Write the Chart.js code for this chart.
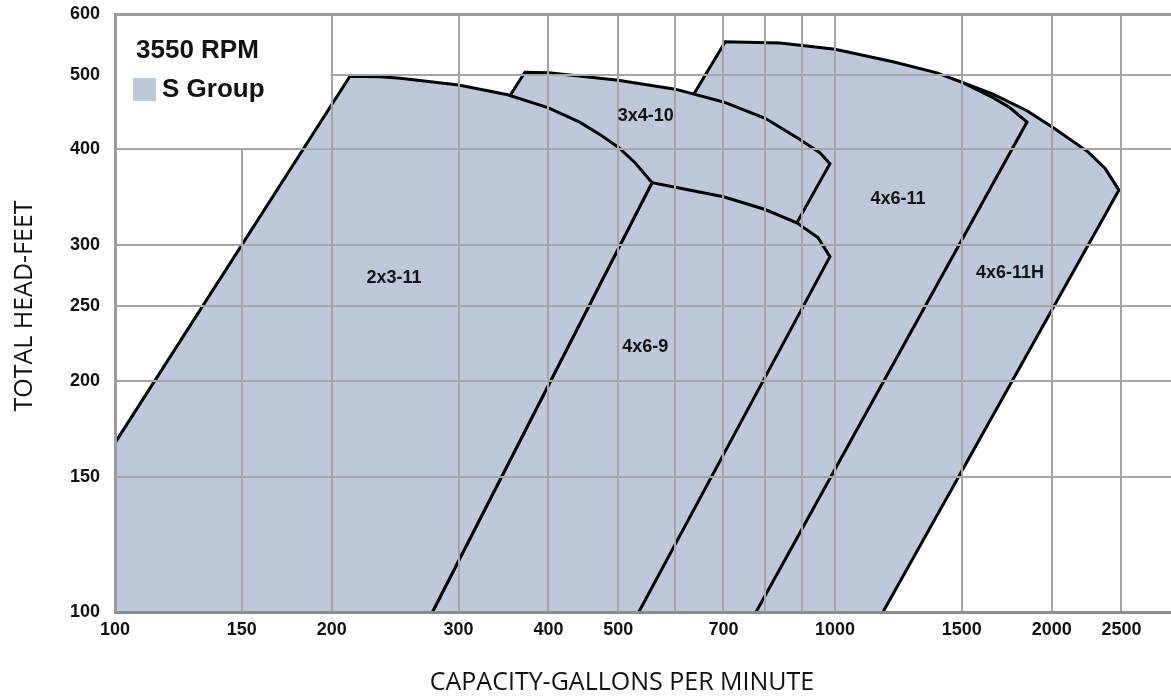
<!DOCTYPE html>
<html lang="en">
<head>
    <meta charset="UTF-8">
    <title>3550 RPM - S Group</title>
    <script src="https://cdn.jsdelivr.net/npm/chart.js"></script>
    <style>
        html, body { margin: 0; padding: 0; background: #fff; }
        #wrap { width: 1171px; height: 698px; position: relative; }
    </style>
</head>
<body>
    <div id="wrap"><canvas id="pumpChart"></canvas></div>

    <script>
        // axis ranges and ticks (log-log)
        const X_MIN = 100, X_MAX = 2929;
        const Y_MIN = 100, Y_MAX = 600;
        const xGridValues = [100, 150, 200, 300, 400, 500, 600, 700, 800, 900, 1000, 1500, 2000, 2500];
        const xTickLabels = [100, 150, 200, 300, 400, 500, 700, 1000, 1500, 2000, 2500];
        const yGridValues = [100, 150, 200, 250, 300, 400, 500, 600];

        // pump coverage areas, [gpm, feet], front-most first
        const pump2x3_11 = [[100, 100], [100, 166], [212, 498], [233, 497], [249, 495], [300, 485], [351, 471],
            [400, 453], [442, 434], [472, 418], [501, 402], [528, 384], [557, 362], [276, 100]];
        const pump4x6_9 = [[276, 100], [557, 362], [600, 357], [700, 347], [800, 334], [885, 321], [947, 307],
            [984, 290], [534, 100]];
        const pump3x4_10 = [[123, 100], [371, 504], [400, 503], [500, 492], [600, 479], [700, 461], [800, 439],
            [894, 412], [953, 396], [984, 383], [441, 100]];
        const pump4x6_11 = [[236, 100], [704, 552], [839, 550], [1000, 540], [1204, 520], [1386, 503], [1500, 489],
            [1658, 467], [1750, 453], [1848, 434], [777, 100]];
        const pump4x6_11H = [[259, 100], [762, 539], [1000, 529], [1204, 513], [1421, 498], [1500, 489], [1658, 472],
            [1848, 449], [2015, 426], [2246, 397], [2371, 378], [2480, 354], [1166, 100]];

        const pumpNames = ['2x3-11', '4x6-9', '3x4-10', '4x6-11', '4x6-11H'];
        const pumpAreas = [pump2x3_11, pump4x6_9, pump3x4_10, pump4x6_11, pump4x6_11H];
        // where each model name sits, [gpm, feet]
        const labelSpots = [[244, 272], [545, 221], [546, 442], [1223, 345], [1750, 276]];

        const legendTitle = '3550 RPM';
        const legendGroup = 'S Group';
        const xTitle = 'CAPACITY-GALLONS PER MINUTE';
        const yTitle = 'TOTAL HEAD-FEET';

        const areaColor = '#bec8db';
        const gridColor = '#a5a5a5';
        const tickFont = { family: '"Liberation Sans", Arial, sans-serif', size: 18, weight: 'bold' };

        const toXY = pts => pts.map(p => ({ x: p[0], y: p[1] }));

        const datasets = [];
        pumpAreas.forEach((pts, i) => {
            // filled area
            datasets.push({
                label: pumpNames[i] + ' area',
                data: toXY(pts),
                order: i * 10 + 2,
                backgroundColor: areaColor,
                borderWidth: 0,
                fill: 'shape',
                pointRadius: 0,
                tension: 0
            });
            // outline (edges lying on the axes are not stroked)
            datasets.push({
                label: pumpNames[i],
                data: toXY(pts.filter(p => !(p[0] <= X_MIN && p[1] <= Y_MIN))),
                order: i * 10 + 1,
                borderColor: '#000',
                borderWidth: 3,
                borderJoinStyle: 'miter',
                fill: false,
                pointRadius: 0,
                tension: 0
            });
        });

        const decor = {
            id: 'decor',
            afterDraw(chart) {
                const { ctx, chartArea, scales: { x, y } } = chart;
                ctx.save();

                // legend panel: hides the grid in the top-left corner, areas stay on top of it
                const bx0 = chartArea.left + 2, by0 = chartArea.top + 2;
                const bx1 = x.getPixelForValue(200) - 1, by1 = y.getPixelForValue(400) - 1;
                ctx.save();
                ctx.beginPath();
                ctx.rect(bx0, by0, bx1 - bx0, by1 - by0);
                ctx.clip();
                ctx.fillStyle = '#fff';
                ctx.fillRect(bx0, by0, bx1 - bx0, by1 - by0);
                for (let i = pumpAreas.length - 1; i >= 0; i--) {
                    const areaEl = chart.getDatasetMeta(i * 2).dataset;
                    ctx.fillStyle = areaColor;
                    ctx.beginPath();
                    areaEl.path(ctx);
                    ctx.closePath();
                    ctx.fill();
                    chart.getDatasetMeta(i * 2 + 1).dataset.draw(ctx, chartArea);
                }
                ctx.restore();

                ctx.fillStyle = '#111';
                ctx.textAlign = 'left';
                ctx.textBaseline = 'alphabetic';
                ctx.font = 'bold 26px "Liberation Sans", Arial, sans-serif';
                ctx.fillText(legendTitle, chartArea.left + 21, chartArea.top + 44);
                ctx.fillText(legendGroup, chartArea.left + 47, chartArea.top + 83);
                ctx.fillStyle = areaColor;
                ctx.fillRect(chartArea.left + 18, chartArea.top + 64, 23, 23);

                // model names
                ctx.fillStyle = '#111';
                ctx.textAlign = 'center';
                ctx.textBaseline = 'middle';
                ctx.font = 'bold 18px "Liberation Sans", Arial, sans-serif';
                labelSpots.forEach((p, i) => {
                    ctx.fillText(pumpNames[i], x.getPixelForValue(p[0]), y.getPixelForValue(p[1]));
                });

                // axis titles
                ctx.font = '25px "Open Sans", "Liberation Sans", sans-serif';
                ctx.textBaseline = 'alphabetic';
                ctx.fillText(xTitle, 622, 690);
                ctx.translate(32, 306);
                ctx.rotate(-Math.PI / 2);
                ctx.fillText(yTitle, 0, 0);

                ctx.restore();
            }
        };

        new Chart(document.getElementById('pumpChart'), {
            type: 'line',
            data: { datasets: datasets },
            options: {
                responsive: true,
                maintainAspectRatio: false,
                animation: false,
                indexAxis: 'y',
                layout: { padding: { top: 14, left: 0, right: 0, bottom: 0 } },
                plugins: {
                    legend: { display: false },
                    tooltip: { enabled: false }
                },
                scales: {
                    x: {
                        type: 'logarithmic',
                        position: 'bottom',
                        min: X_MIN,
                        max: X_MAX,
                        afterBuildTicks: axis => { axis.ticks = xGridValues.map(v => ({ value: v })); },
                        afterFit: axis => { axis.height = 86; axis.paddingRight = 0; },
                        grid: {
                            z: 1,
                            drawTicks: false,
                            color: gridColor,
                            lineWidth: c => (c.tick && c.tick.value === X_MIN ? 0 : 2)
                        },
                        border: { display: true, color: '#8c8c8c', width: 3, z: 2 },
                        ticks: {
                            autoSkip: false,
                            maxRotation: 0,
                            minRotation: 0,
                            padding: 7,
                            color: '#111',
                            font: tickFont,
                            callback: v => (xTickLabels.includes(v) ? String(v) : '')
                        }
                    },
                    y: {
                        type: 'logarithmic',
                        position: 'left',
                        min: Y_MIN,
                        max: Y_MAX,
                        afterBuildTicks: axis => { axis.ticks = yGridValues.map(v => ({ value: v })); },
                        afterFit: axis => {
                            axis.width = 115;
                            axis.paddingTop = 0;
                            axis.paddingBottom = 0;
                        },
                        grid: {
                            z: 1,
                            drawTicks: false,
                            color: c => (c.tick && c.tick.value === Y_MAX ? '#9c9c9c' : gridColor),
                            lineWidth: c => {
                                if (!c.tick) return 2;
                                if (c.tick.value === Y_MAX) return 3;
                                if (c.tick.value === Y_MIN) return 0;
                                return 2;
                            }
                        },
                        border: { display: true, color: '#9c9c9c', width: 3, z: 2 },
                        ticks: {
                            autoSkip: false,
                            padding: 15,
                            color: '#111',
                            font: tickFont,
                            callback: v => String(v)
                        }
                    }
                }
            },
            plugins: [decor]
        });
    </script>
</body>
</html>
